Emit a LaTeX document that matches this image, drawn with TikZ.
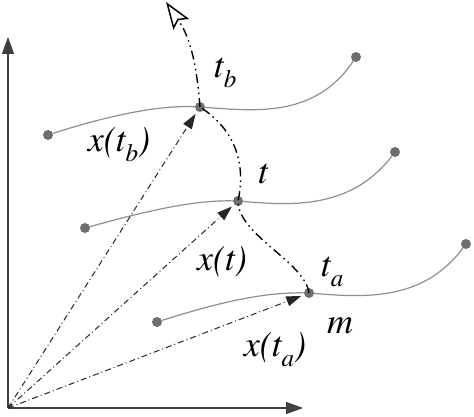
\documentclass[tikz,border=0pt]{standalone}
\usepackage{fontspec}
\setmainfont{texgyretermes}[Extension=.otf, UprightFont=*-regular, ItalicFont=*-italic, BoldFont=*-bold, BoldItalicFont=*-bolditalic]
\usetikzlibrary{arrows.meta}
\newcommand{\lsub}[1]{\raisebox{-0.28em}{\fontsize{25}{25}\selectfont\itshape #1}}
\definecolor{curvegray}{HTML}{8E8E8E}
\definecolor{dotgray}{HTML}{6E6E6E}
\tikzset{
  curveline/.style={draw=curvegray, line width=1.2pt},
  dotnode/.style={circle, fill=dotgray, inner sep=0pt, minimum size=10pt},
  radial/.style={draw=black!85, line width=1pt, dash pattern=on 6pt off 3pt on 1pt off 3pt,
    -{Triangle[length=15pt,width=10pt]}, shorten >=3pt},
  traj/.style={draw=black, line width=1.4pt, dash pattern=on 9pt off 4pt on 1.5pt off 4pt on 1.5pt off 4pt},
  axisline/.style={draw=black!75, line width=1.2pt, -{Triangle[length=17pt,width=12pt]}},
  lab/.style={font=\fontsize{36}{36}\selectfont\itshape, inner sep=0pt}
}
\begin{document}
\begin{tikzpicture}[x=1pt,y=-1pt]
\useasboundingbox (0,0) rectangle (474,417);
% origin and axes
\coordinate (O) at (8,408);
\coordinate (Yend) at (8,37);
\coordinate (Xend) at (303,408);
\draw[axisline] (O) -- (Yend);
\draw[axisline] (O) -- (Xend);
% dots
\node[dotnode] (L1) at (48,135) {};
\node[dotnode] (tb) at (200,107) {};
\node[dotnode] (R1) at (356,57) {};
\node[dotnode] (L2) at (85,228) {};
\node[dotnode] (t) at (238,201) {};
\node[dotnode] (R2) at (395,152) {};
\node[dotnode] (L3) at (157,322) {};
\node[dotnode] (ta) at (309,293) {};
\node[dotnode] (R3) at (466,244) {};
% curves
\draw[curveline] (L1) .. controls (110,115) and (160,105) .. (tb);
\draw[curveline] (tb) .. controls (255,111) and (315,118) .. (R1);
\draw[curveline] (L2) .. controls (150,210) and (195,200) .. (t);
\draw[curveline] (t) .. controls (295,206) and (352,208) .. (R2);
\draw[curveline] (L3) .. controls (220,302) and (265,292) .. (ta);
\draw[curveline] (ta) .. controls (368,298) and (424,300) .. (R3);
% radial vectors
\draw[radial] (O) -- (tb);
\draw[radial] (O) -- (t);
\draw[radial] (O) -- (ta);
% trajectory
\coordinate (tip) at (166,2);
\draw[traj] (ta.center) .. controls (305,262) and (238,235) .. (t.center)
  .. controls (246,165) and (236,130) .. (tb.center);
\draw[traj, -{Stealth[open, length=27pt, width=19pt, inset=5pt, line width=1.5pt, fill=white]}] (tb.center) .. controls (197,70) and (192,40) .. (tip);
% labels
\node[lab] (ltb) at (225,73) {t\lsub{b}};
\node[lab] (lxtb) at (119,145) {x(t\lsub{b})};
\node[lab] (lt) at (263,174) {t};
\node[lab] (lxt) at (222,262) {x(t)};
\node[lab] (lta) at (332,272) {t\lsub{a}};
\node[lab] (lm) at (340,326) {m};
\node[lab] (lxta) at (275,350) {x(t\lsub{a})};
\end{tikzpicture}
\end{document}
